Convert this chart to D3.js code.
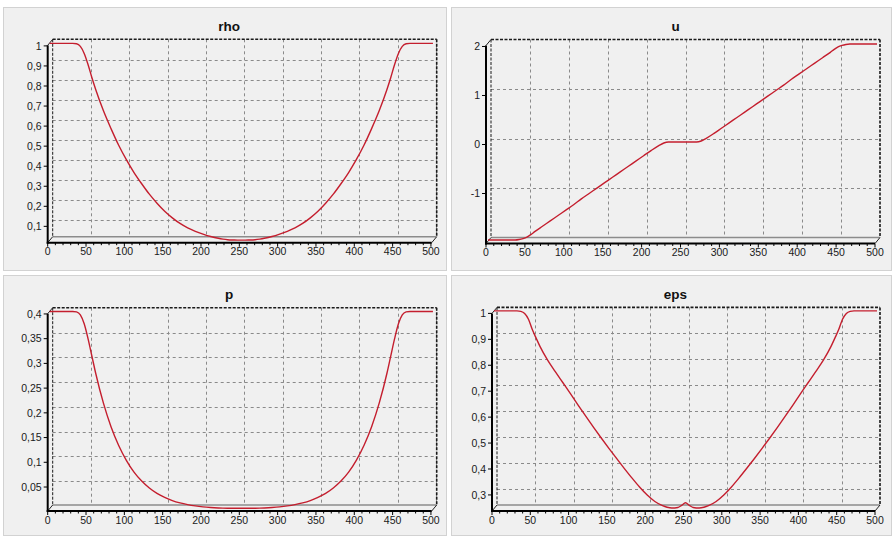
<!DOCTYPE html>
<html>
<head>
<meta charset="utf-8">
<script src="https://cdn.jsdelivr.net/npm/d3@7"></script>
<style>
  html, body { margin: 0; padding: 0; background: #ffffff; }
  svg { display: block; font-family: "Liberation Sans", Arial, sans-serif; }
</style>
</head>
<body>
<svg id="chart" width="892" height="539"></svg>
<script>
// ---- data ----
const xPos = [0,10,20,30,35,40,45,50,55,60,70,80,90,100,110,120,130,140,150,160,170,180,190,200,210,220,226,232,240,245,250,
              255,260,268,274,280,290,300,310,320,330,340,350,360,370,380,390,400,410,420,430,440,445,450,455,460,465,470,480,490,500];

const rhoValues = [1.0,1.0,1.0,1.0,0.998,0.985,0.95,0.895,0.83,0.77,0.665,0.575,0.492,0.42,0.356,0.30,0.248,0.203,0.163,0.13,0.102,0.08,0.063,0.049,0.037,0.028,0.024,0.021,0.0195,0.019,0.019,
                   0.019,0.0195,0.021,0.024,0.028,0.037,0.049,0.063,0.08,0.102,0.13,0.163,0.203,0.248,0.30,0.356,0.42,0.492,0.575,0.665,0.77,0.83,0.895,0.95,0.985,0.998,1.0,1.0,1.0,1.0];

const uValues = [-2,-2,-2,-2,-2,-1.99,-1.97,-1.94,-1.89,-1.83,-1.72,-1.61,-1.5,-1.39,-1.28,-1.16,-1.05,-0.94,-0.83,-0.72,-0.61,-0.5,-0.39,-0.28,-0.17,-0.07,-0.02,0,0,0,0,
                 0,0,0,0.02,0.07,0.17,0.28,0.39,0.5,0.61,0.72,0.83,0.94,1.05,1.16,1.28,1.39,1.5,1.61,1.72,1.83,1.89,1.94,1.97,1.99,2,2,2,2,2];

const pValues = [0.4,0.4,0.4,0.4,0.399,0.393,0.375,0.345,0.31,0.275,0.215,0.167,0.129,0.099,0.075,0.057,0.043,0.032,0.024,0.0175,0.0128,0.0093,0.0067,0.0048,0.0035,0.0026,0.0022,0.002,0.0019,0.0019,0.0019,
                 0.0019,0.0019,0.002,0.0022,0.0026,0.0035,0.0048,0.0067,0.0093,0.0128,0.0175,0.024,0.032,0.043,0.057,0.075,0.099,0.129,0.167,0.215,0.275,0.31,0.345,0.375,0.393,0.399,0.4,0.4,0.4,0.4];

const epsValues = [1,1,1,1,0.998,0.99,0.968,0.928,0.895,0.863,0.81,0.766,0.723,0.68,0.636,0.593,0.551,0.51,0.47,0.431,0.393,0.356,0.321,0.29,0.265,0.249,0.243,0.24,0.242,0.25,0.26,
                   0.25,0.242,0.24,0.243,0.249,0.265,0.29,0.321,0.356,0.393,0.431,0.47,0.51,0.551,0.593,0.636,0.68,0.723,0.766,0.81,0.863,0.895,0.928,0.968,0.99,0.998,1,1,1,1];

const xTicks = [0,50,100,150,200,250,300,350,400,450,500];
const rhoTicks = [0.1,0.2,0.3,0.4,0.5,0.6,0.7,0.8,0.9,1];
const uTicks = [-1,0,1,2];
const pTicks = [0.05,0.1,0.15,0.2,0.25,0.3,0.35,0.4];
const epsTicks = [0.3,0.4,0.5,0.6,0.7,0.8,0.9,1];
const titles = ["rho","u","p","eps"];

// ---- layout ----
const svg = d3.select("#chart");
const FDX = -5, FDY = 6;      // front-plane offset (3D depth)
const CDX = -3, CDY = 3.5;    // series plane offset

const panels = [
  {title: titles[0], vals: rhoValues, ticks: rhoTicks, box:[3,7,444,264],   back:{l:52.7,r:436.7,t:39.3,b:236.7}, xd:[0,501], yd:[0.0185,1.003]},
  {title: titles[1], vals: uValues,   ticks: uTicks,   box:[451,7,441,264], back:{l:491,r:880,t:39.5,b:237.5},   xd:[0,500], yd:[-2.02,2.02]},
  {title: titles[2], vals: pValues,   ticks: pTicks,   box:[3,275,444,261], back:{l:52.7,r:436.7,t:307.7,b:505}, xd:[0,501], yd:[0.0015,0.4005]},
  {title: titles[3], vals: epsValues, ticks: epsTicks, box:[451,275,441,261], back:{l:497,r:880,t:307.4,b:505},  xd:[0,500], yd:[0.238,1.0]}
];

const fmt = v => String(v).replace(".", ",");

panels.forEach(P => {
  const g = svg.append("g");
  const [bx, by, bw, bh] = P.box;
  const B = P.back;
  g.append("rect").attr("x", bx + 0.5).attr("y", by + 0.5).attr("width", bw - 1).attr("height", bh - 1)
    .attr("fill", "#f0f0f0").attr("stroke", "#d2d2d2").attr("stroke-width", 1);

  const xs = d3.scaleLinear().domain(P.xd).range([B.l, B.r]);
  const ys = d3.scaleLinear().domain(P.yd).range([B.b, B.t]);

  // title
  g.append("text").attr("x", bx + bw / 2 + 4).attr("y", by + 24)
    .attr("text-anchor", "middle").attr("font-weight", "bold").attr("font-size", 13.5)
    .attr("fill", "#111").text(P.title);

  // grid on back wall
  const grid = g.append("g").attr("stroke", "#8a8a8a").attr("stroke-width", 1).attr("stroke-dasharray", "3,3");
  xTicks.filter(t => t > P.xd[0] && t < P.xd[1]).forEach(t => {
    grid.append("line").attr("x1", Math.round(xs(t)) + 0.5).attr("x2", Math.round(xs(t)) + 0.5)
      .attr("y1", B.t).attr("y2", B.b);
  });
  P.ticks.filter(t => ys(t) > B.t + 2).forEach(t => {
    grid.append("line").attr("y1", Math.round(ys(t)) + 0.5).attr("y2", Math.round(ys(t)) + 0.5)
      .attr("x1", B.l).attr("x2", B.r);
  });

  // back wall frame
  g.append("line").attr("x1", B.l).attr("x2", B.r).attr("y1", B.b).attr("y2", B.b)
    .attr("stroke", "#8c8c8c").attr("stroke-width", 1.5);
  const frame = g.append("g").attr("stroke", "#1a1a1a").attr("stroke-width", 1.6).attr("stroke-dasharray", "3,1.5");
  frame.append("line").attr("x1", B.l).attr("x2", B.r).attr("y1", B.t).attr("y2", B.t);
  frame.append("line").attr("x1", B.r).attr("x2", B.r).attr("y1", B.t).attr("y2", B.b);
  frame.append("line").attr("x1", B.l).attr("x2", B.l).attr("y1", B.t).attr("y2", B.b).attr("stroke-width", 1);

  // depth diagonals
  const diag = g.append("g").attr("stroke", "#222").attr("stroke-width", 1);
  diag.append("line").attr("x1", B.l + FDX).attr("y1", B.t + FDY).attr("x2", B.l).attr("y2", B.t);
  diag.append("line").attr("x1", B.l + FDX).attr("y1", B.b + FDY).attr("x2", B.l).attr("y2", B.b);
  diag.append("line").attr("x1", B.r + FDX).attr("y1", B.b + FDY).attr("x2", B.r).attr("y2", B.b);

  // series line
  const pts = xPos.map((x, i) => ({x: x, y: P.vals[i]}));
  const line = d3.line().x(d => xs(d.x) + CDX).y(d => ys(d.y) + CDY).curve(d3.curveMonotoneX);
  g.append("path").datum(pts).attr("d", line).attr("fill", "none")
    .attr("stroke", "#c41e2e").attr("stroke-width", 1.4);

  // front left axis
  const fx = B.l + FDX;
  g.append("line").attr("x1", fx).attr("x2", fx).attr("y1", B.t + FDY).attr("y2", B.b + FDY + 1)
    .attr("stroke", "#000").attr("stroke-width", 2);
  P.ticks.forEach(t => {
    const y = ys(t) + FDY;
    g.append("line").attr("x1", fx - 4).attr("x2", fx).attr("y1", y).attr("y2", y)
      .attr("stroke", "#000").attr("stroke-width", 1);
    g.append("text").attr("x", fx - 6).attr("y", y).attr("dy", "0.35em")
      .attr("text-anchor", "end").attr("font-size", 10.5).attr("fill", "#1a1a1a").text(fmt(t));
  });

  // front bottom axis
  const fy = B.b + FDY;
  g.append("line").attr("x1", fx - 1).attr("x2", B.r + FDX).attr("y1", fy).attr("y2", fy)
    .attr("stroke", "#000").attr("stroke-width", 2);
  d3.range(P.xd[0], 501, 10).forEach(t => {
    const major = t % 50 === 0;
    const x = xs(t) + FDX;
    g.append("line").attr("x1", x).attr("x2", x).attr("y1", fy).attr("y2", fy + (major ? 4 : 2.5))
      .attr("stroke", "#000").attr("stroke-width", 1);
  });
  xTicks.forEach(t => {
    g.append("text").attr("x", xs(t) + FDX).attr("y", fy + 12.5)
      .attr("text-anchor", "middle").attr("font-size", 10.5).attr("fill", "#1a1a1a").text(t);
  });
});
</script>
</body>
</html>
